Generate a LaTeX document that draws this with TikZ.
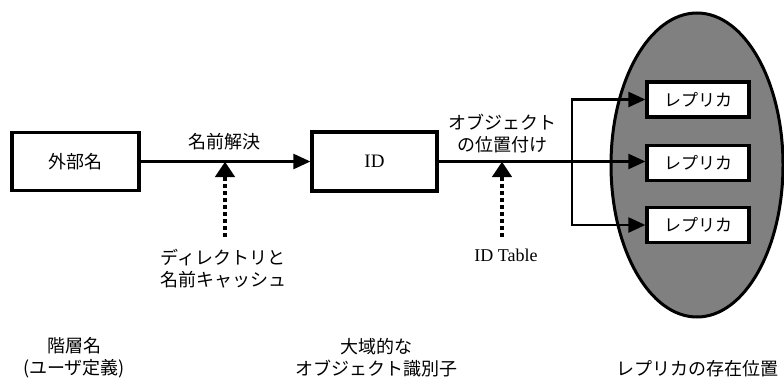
\documentclass[tikz,border=0pt]{standalone}
\usepackage{fontspec}
\setmainfont{Liberation Serif}
\newfontfamily\jp{Noto Sans CJK JP}
\usetikzlibrary{arrows.meta}
\begin{document}
\begin{tikzpicture}[x=1pt,y=-1pt,
  box/.style={draw,line width=3.2pt,fill=white,inner sep=0pt},
  arr/.style={line width=2.4pt,-{Triangle[length=17pt,width=15pt]}},
  link/.style={line width=2.4pt},
  dotline/.style={line width=4.5pt,dash pattern=on 4pt off 3pt},
  uptip/.style={-{Triangle[length=15pt,width=20pt]},line width=0.1pt},
  lbl/.style={font=\jp\fontsize{18}{22}\selectfont,align=center,inner sep=0pt},
  rep/.style={box,minimum width=102pt,minimum height=35pt,font=\jp\fontsize{17}{20}\selectfont}]
\useasboundingbox (0,0) rectangle (784,380);
% ellipse (region of replicas)
\fill[black!50] (697,165) ellipse [x radius=86, y radius=152];
\draw[line width=3pt] (697,165) ellipse [x radius=86, y radius=152];
% boxes
\node[box,minimum width=127pt,minimum height=58pt,font=\jp\fontsize{18}{20}\selectfont] (ext) at (75.5,161.5) {外部名};
\node[box,minimum width=125pt,minimum height=59pt,font=\fontsize{19}{20}\selectfont] (id) at (374.5,161.5) {ID};
\node[rep] (r1) at (698,99.5) {レプリカ};
\node[rep] (r2) at (698,163) {レプリカ};
\node[rep] (r3) at (698,225) {レプリカ};
% connectors
\draw[arr] (ext.east) -- (id.west);
\coordinate (j) at (572,161.5);
\draw[link] (id.east) -- (j);
\draw[arr] (j) -- (r2.west |- j);
\draw[arr] (j) |- (r1.west);
\draw[arr] (j) |- (r3.west);
% up arrows
\coordinate (d1a) at (225,237);
\coordinate (d1b) at (225,176);
\coordinate (d1t) at (225,162);
\draw[dotline] (d1a) -- (d1b);
\draw[uptip] (d1b) -- (d1t);
\coordinate (d2a) at (502,237);
\coordinate (d2b) at (502,176);
\coordinate (d2t) at (502,162);
\draw[dotline] (d2a) -- (d2b);
\draw[uptip] (d2b) -- (d2t);
% labels
\node[lbl] (l1) at (224,142) {名前解決};
\node[lbl] (l2) at (502,134) {オブジェクト\\の位置付け};
\node[lbl] (l3) at (223,269) {ディレクトリと\\名前キャッシュ};
\node[font=\fontsize{18}{20}\selectfont,inner sep=0pt] (l4) at (506,255) {ID Table};
\node[lbl] (b1) at (74,358) {階層名\\(ユーザ定義)};
\node[lbl] (b2) at (376,358) {大域的な\\オブジェクト識別子};
\node[lbl] (b3) at (697,369) {レプリカの存在位置};
\end{tikzpicture}
\end{document}
